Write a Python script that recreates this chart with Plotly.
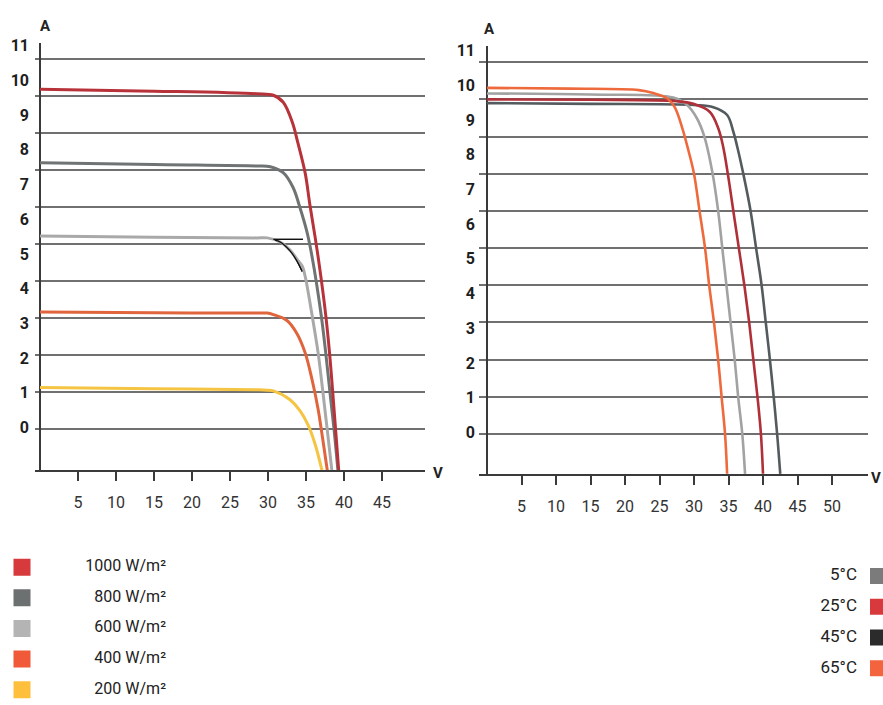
import plotly.graph_objects as go

W, H = 883, 705

# ---------------- data: left chart (irradiance) ----------------
irr_names = ["1000 W/m²", "800 W/m²", "600 W/m²", "400 W/m²", "200 W/m²"]
irr_line_colors = ["#b8323a", "#6f7373", "#a9a9a9", "#e0643c", "#f6c443"]
irr_swatch_colors = ["#d63a3c", "#6d7070", "#b4b4b4", "#f05a38", "#fdbf3c"]

v_1000 = [0, 15, 28.5, 30.7, 32.0, 33.2, 33.9, 34.9, 35.5, 36.2, 36.8, 37.6, 38.1, 38.5, 38.9, 39.3]
i_1000 = [9.17, 9.12, 9.05, 9.01, 8.82, 8.28, 7.75, 6.90, 6.07, 5.18, 4.35, 3.07, 2.05, 1.04, -0.03, -1.11]

v_800 = [0, 15, 28.5, 30.3, 32.0, 33.3, 34.2, 35.1, 35.8, 37.0, 37.6, 38.15, 38.7, 39.2]
i_800 = [7.19, 7.14, 7.10, 7.08, 6.92, 6.52, 5.98, 5.34, 4.65, 3.07, 2.05, 1.00, -0.03, -1.11]

v_600 = [0, 15, 28.5, 29.9, 31.6, 32.9, 33.9, 34.5, 34.9, 35.8, 36.6, 37.2, 37.8, 38.4]
i_600 = [5.21, 5.18, 5.16, 5.16, 5.05, 4.83, 4.56, 4.40, 4.11, 3.07, 2.05, 1.04, -0.03, -1.11]

v_400 = [0, 15, 28.5, 29.9, 30.7, 32.5, 33.8, 34.9, 35.8, 36.6, 37.2, 37.8]
i_400 = [3.16, 3.14, 3.13, 3.13, 3.09, 2.93, 2.58, 2.05, 1.33, 0.53, -0.27, -1.11]

v_200 = [0, 15, 28.5, 29.9, 30.7, 32.9, 34.2, 35.3, 36.2, 37.1]
i_200 = [1.12, 1.09, 1.06, 1.05, 1.03, 0.79, 0.50, 0.10, -0.41, -1.11]

# thin black pen stroke visible at the 600 W/m² knee
mark_v = [30.7, 34.6, None, 30.9, 31.6, 32.9, 33.8, 34.5]
mark_i = [5.12, 5.12, None, 5.10, 5.05, 4.81, 4.54, 4.25]

irr_v = [v_1000, v_800, v_600, v_400, v_200]
irr_i = [i_1000, i_800, i_600, i_400, i_200]

# ---------------- data: right chart (temperature) ----------------
temp_names = ["5°C", "25°C", "45°C", "65°C"]
temp_line_colors = ["#535b5f", "#b0303a", "#a2a2a2", "#ee6a3c"]
temp_swatch_colors = ["#7b7b7b", "#d8393d", "#2b2b2b", "#f2633e"]

v_5 = [0, 15, 30, 32.8, 34.8, 35.7, 36.3, 37.2, 38.2, 39.0, 39.8, 40.4, 41.0, 41.55, 42.05, 42.5]
i_5 = [8.90, 8.88, 8.85, 8.79, 8.58, 8.13, 7.70, 6.95, 6.00, 5.00, 4.00, 3.00, 2.00, 1.00, 0.00, -1.07]

v_25 = [0, 15, 27.5, 29.9, 32.3, 33.5, 34.2, 34.9, 35.7, 36.5, 37.3, 38.0, 38.6, 39.2, 39.7, 40.0]
i_25 = [9.00, 8.99, 8.95, 8.88, 8.66, 8.23, 7.75, 7.00, 6.00, 5.00, 4.00, 3.00, 2.00, 1.00, 0.00, -1.07]

v_45 = [0, 15, 27.0, 29.0, 30.4, 31.5, 32.7, 33.5, 34.1, 34.7, 35.3, 35.9, 36.4, 37.0, 37.4]
i_45 = [9.16, 9.13, 9.05, 8.85, 8.50, 8.00, 7.00, 6.00, 5.00, 4.00, 3.00, 2.00, 1.00, 0.00, -1.07]

v_65 = [0, 12, 22.0, 24.1, 26.1, 27.2, 28.3, 29.2, 30.0, 30.8, 31.6, 32.2, 32.9, 33.5, 34.0, 34.5, 34.8]
i_65 = [9.31, 9.29, 9.25, 9.17, 9.03, 8.79, 8.23, 7.62, 7.00, 6.00, 5.00, 4.00, 3.00, 2.00, 1.00, 0.00, -1.07]

temp_v = [v_5, v_25, v_45, v_65]
temp_i = [i_5, i_25, i_45, i_65]

# ---------------- ticks ----------------
x_ticks_left = [5, 10, 15, 20, 25, 30, 35, 40, 45]
x_ticks_right = [5, 10, 15, 20, 25, 30, 35, 40, 45, 50]
y_tick_labels = [0, 1, 2, 3, 4, 5, 6, 7, 8, 9, 10, 11]
grid_values = [0, 1, 2, 3, 4, 5, 6, 7, 8, 9, 10]

# label rows are spaced a little tighter than the grid rows in the original
label_pitch_left = 35 / 37.37
label_pitch_right = 35 / 37.5
label_offset = 0.045

FONT = "Roboto, 'Open Sans', Arial, sans-serif"
GRID = "#707070"
AXIS = "#3a3a3a"
SPL = dict(shape="spline", smoothing=1.0)

fig = go.Figure()

# black pen stroke lives on the grid axis (y), curves on the labelled overlay (y2)
fig.add_trace(go.Scatter(
    x=mark_v, y=mark_i, mode="lines", line=dict(color="#111111", width=1.3, **SPL),
    xaxis="x", yaxis="y", showlegend=False, connectgaps=False))
for k in reversed(range(len(irr_names))):
    fig.add_trace(go.Scatter(
        x=irr_v[k], y=irr_i[k], mode="lines", name=irr_names[k],
        line=dict(color=irr_line_colors[k], width=3, **SPL),
        xaxis="x", yaxis="y2", showlegend=False))
# re-draw the stroke above the curves
fig.add_trace(go.Scatter(
    x=mark_v, y=mark_i, mode="lines", line=dict(color="#111111", width=1.3, **SPL),
    xaxis="x", yaxis="y2", showlegend=False, connectgaps=False))

# right curves: first on the grid axis (y3), rest on the labelled overlay (y4)
for n, k in enumerate([0, 2, 1, 3]):
    fig.add_trace(go.Scatter(
        x=temp_v[k], y=temp_i[k], mode="lines", name=temp_names[k],
        line=dict(color=temp_line_colors[k], width=2.6, **SPL),
        xaxis="x2", yaxis="y3" if n == 0 else "y4", showlegend=False))

# legend (left): swatches + right-aligned labels
leg_idx_l = list(range(len(irr_names)))
fig.add_trace(go.Scatter(
    x=[0] * len(irr_names), y=leg_idx_l, mode="markers",
    marker=dict(symbol="square", size=17, color=irr_swatch_colors, line=dict(width=0)),
    xaxis="x3", yaxis="y5", showlegend=False, hoverinfo="skip"))
fig.add_trace(go.Scatter(
    x=[1] * len(irr_names), y=leg_idx_l, mode="text", text=irr_names,
    textposition="middle left", textfont=dict(family=FONT, size=16, color="#222222"),
    xaxis="x3", yaxis="y5", showlegend=False, hoverinfo="skip"))

# legend (right): labels then swatches
leg_idx_r = list(range(len(temp_names)))
fig.add_trace(go.Scatter(
    x=[0] * len(temp_names), y=leg_idx_r, mode="text", text=temp_names,
    textposition="middle left", textfont=dict(family=FONT, size=17, color="#222222"),
    xaxis="x4", yaxis="y6", showlegend=False, hoverinfo="skip"))
fig.add_trace(go.Scatter(
    x=[1] * len(temp_names), y=leg_idx_r, mode="markers",
    marker=dict(symbol="square", size=16, color=temp_swatch_colors, line=dict(width=0)),
    xaxis="x4", yaxis="y6", showlegend=False, hoverinfo="skip"))

# ---------------- geometry (pixels) ----------------
def px_x(p):
    return p / W

def px_y(p):
    return 1 - p / H

# left plot: x=0 at 40px, 7.6 px/V; gridline 0 at 426.7px, 37.37 px/unit
L_left, L_right, L_top, L_bot = 35, 425, 37, 468
lx0, lsx = 40, 7.6
ly0, lsy = 426.7, 37.37
# right plot
R_left, R_right, R_top, R_bot = 479, 868, 40, 472
rx0, rsx = 487, 6.9
ry0, rsy = 431.7, 37.5

left_xrange = [(L_left - lx0) / lsx, (L_right - lx0) / lsx]
left_yrange = [(ly0 - L_bot) / lsy, (ly0 - L_top) / lsy]
right_xrange = [(R_left - rx0) / rsx, (R_right - rx0) / rsx]
right_yrange = [(ry0 - R_bot) / rsy, (ry0 - R_top) / rsy]

tick_font = dict(family=FONT, size=16, color="#333333")
ylab_font = dict(family=FONT, size=16, color="#1e1e1e", weight=700)

common_x = dict(
    showgrid=False, zeroline=True, zerolinecolor=AXIS, zerolinewidth=2,
    showline=True, linecolor=AXIS, linewidth=2,
    ticks="outside", ticklen=9, tickwidth=1.5, tickcolor=AXIS,
    tickfont=tick_font, ticklabelstandoff=8, fixedrange=True)
grid_y = dict(
    tickmode="array", tickvals=grid_values, showticklabels=False,
    showgrid=True, gridcolor=GRID, gridwidth=1.6, zeroline=False,
    showline=False, ticks="", fixedrange=True)

fig.update_layout(
    width=W, height=H,
    margin=dict(l=0, r=0, t=0, b=0),
    paper_bgcolor="white", plot_bgcolor="rgba(0,0,0,0)",
    showlegend=False,
    xaxis=dict(domain=[px_x(L_left), px_x(L_right)], range=left_xrange,
               tickvals=x_ticks_left, anchor="y", **common_x),
    yaxis=dict(domain=[px_y(L_bot), px_y(L_top)], range=left_yrange, anchor="x", **grid_y),
    yaxis2=dict(overlaying="y", anchor="x", range=left_yrange, side="left",
                tickmode="array",
                tickvals=[label_offset + k * label_pitch_left for k in y_tick_labels],
                ticktext=[str(k) for k in y_tick_labels],
                showgrid=False, zeroline=False, showline=False, ticks="",
                tickfont=ylab_font, ticklabelstandoff=5, fixedrange=True),
    xaxis2=dict(domain=[px_x(R_left), px_x(R_right)], range=right_xrange,
                tickvals=x_ticks_right, anchor="y3", **common_x),
    yaxis3=dict(domain=[px_y(R_bot), px_y(R_top)], range=right_yrange, anchor="x2", **grid_y),
    yaxis4=dict(overlaying="y3", anchor="x2", range=right_yrange, side="left",
                tickmode="array",
                tickvals=[label_offset + k * label_pitch_right for k in y_tick_labels],
                ticktext=[str(k) for k in y_tick_labels],
                showgrid=False, zeroline=False, showline=False, ticks="",
                tickfont=ylab_font, ticklabelstandoff=3, fixedrange=True),
    # legend axes
    xaxis3=dict(domain=[0, 0.25], range=[-22 / 144, (0.25 * W - 22) / 144], visible=False, anchor="y5"),
    yaxis5=dict(domain=[0, 154.5 / H], range=[4.5, -0.5], visible=False, anchor="x3"),
    xaxis4=dict(domain=[0.8, 1.0], range=[(0.8 * W - 857) / 21, (W - 857) / 21], visible=False, anchor="y6"),
    yaxis6=dict(domain=[21.5 / H, 145.5 / H], range=[3.5, -0.5], visible=False, anchor="x4"),
)

ann_font = dict(family=FONT, size=15, color="#222222", weight=700)
for (ax_px, ay_px, txt) in [(45, 20, "A"), (489, 23, "A"), (438, 471, "V"), (876, 476, "V")]:
    fig.add_annotation(x=px_x(ax_px), y=px_y(ay_px), xref="paper", yref="paper",
                       text=txt, showarrow=False, font=ann_font,
                       xanchor="center", yanchor="middle")

fig.write_html("out.html", config={"displayModeBar": False},
               post_script="document.body.style.margin='0';document.body.style.overflow='hidden';")
